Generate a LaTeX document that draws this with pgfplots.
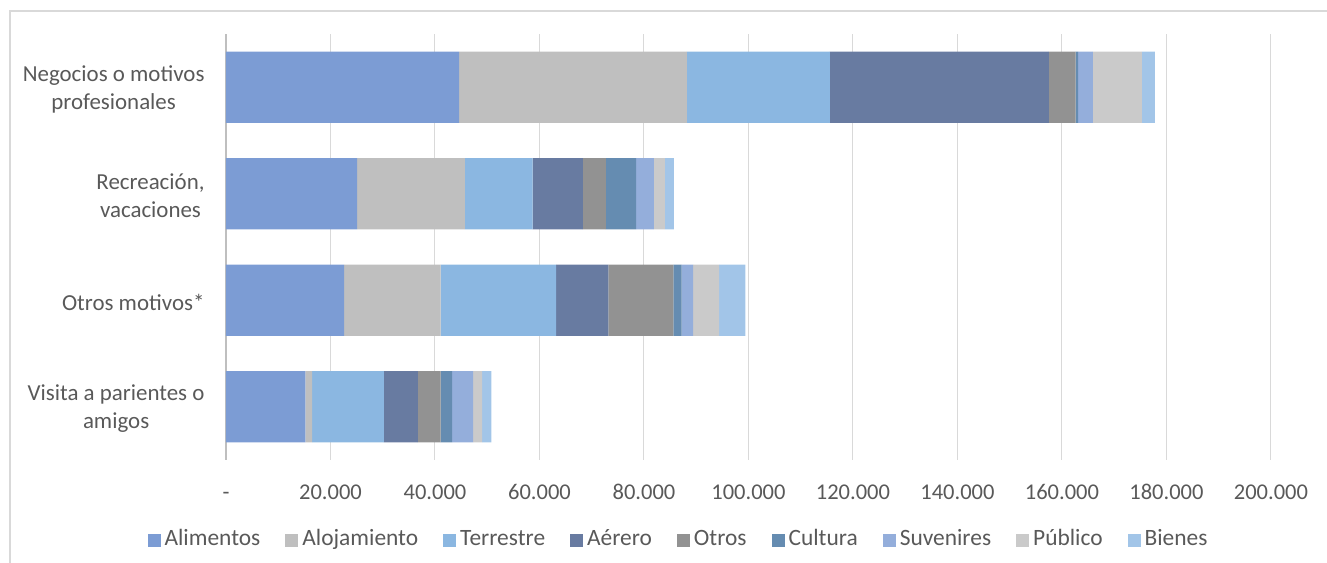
\documentclass[border=0pt]{standalone}
\usepackage{fontspec}
\setmainfont{Carlito}
\usepackage{pgfplots}
\pgfplotsset{compat=1.18}
\definecolor{cAli}{HTML}{7C9CD4}
\definecolor{cAlo}{HTML}{BFBFBF}
\definecolor{cTer}{HTML}{8BB7E1}
\definecolor{cAer}{HTML}{687BA1}
\definecolor{cOtr}{HTML}{929292}
\definecolor{cCul}{HTML}{658CB1}
\definecolor{cSuv}{HTML}{94AEDB}
\definecolor{cPub}{HTML}{CACACA}
\definecolor{cBie}{HTML}{A2C5E8}
\definecolor{txt}{HTML}{595959}
\definecolor{gridc}{HTML}{D9D9D9}
\begin{document}
\begin{tikzpicture}
\useasboundingbox (-226bp,-103bp) rectangle (1101bp,460bp);
\draw[gridc, line width=1.5bp] (-216bp,-103bp) -- (-216bp,449bp) -- (1101bp,449bp);
\begin{axis}[
  at={(0,0)}, anchor=south west,
  scale only axis, width=1045bp, height=426bp,
  xbar stacked, bar width=0.667,
  xmin=0, xmax=200000, ymin=-0.5, ymax=3.5,
  y dir=reverse, enlargelimits=false, clip=false,
  axis line style={draw=none}, major tick length=0pt,
  xmajorgrids, grid style={gridc, line width=1bp},
  scaled x ticks=false,
  xtick={0,20000,40000,60000,80000,100000,120000,140000,160000,180000,200000},
  xticklabels={-,20.000,40.000,60.000,80.000,100.000,120.000,140.000,160.000,180.000,200.000},
  xticklabel style={anchor=base, yshift=-39bp, font=\fontsize{22.6}{26}\selectfont, text=txt},
  ytick={0,1,2,3},
  yticklabels={{Negocios o motivos\\profesionales},{Recreación,\\vacaciones},{Otros motivos*},{Visita a parientes o\\amigos}},
  yticklabel style={anchor=east, align=center, xshift=-18bp, yshift=-2bp, font=\fontsize{23}{27.5}\selectfont, text=txt},
  legend columns=9,
  legend style={at={(0.434,-0.186)}, anchor=center, draw=none, fill=none,
    font=\fontsize{23.5}{26}\selectfont, text=txt,
    /tikz/every even column/.append style={column sep=21bp},
    nodes={inner xsep=4bp, text height=17bp, text depth=5bp}},
  legend image code/.code={\fill[#1] (0bp,-8bp) rectangle (13bp,5bp);},
  every axis plot/.append style={draw=none},
]
\addplot[fill=cAli] coordinates {(44600,0) (25100,1) (22600,2) (15200,3)};
\addplot[fill=cAlo] coordinates {(43600,0) (20600,1) (18500,2) (1300,3)};
\addplot[fill=cTer] coordinates {(27400,0) (13000,1) (22100,2) (13700,3)};
\addplot[fill=cAer] coordinates {(41900,0) (9600,1) (10000,2) (6500,3)};
\addplot[fill=cOtr] coordinates {(5100,0) (4400,1) (12400,2) (4400,3)};
\addplot[fill=cCul] coordinates {(500,0) (5800,1) (1600,2) (2200,3)};
\addplot[fill=cSuv] coordinates {(2800,0) (3400,1) (2200,2) (4000,3)};
\addplot[fill=cPub] coordinates {(9400,0) (2100,1) (5000,2) (1700,3)};
\addplot[fill=cBie] coordinates {(2500,0) (1700,1) (5000,2) (1800,3)};
\legend{Alimentos,Alojamiento,Terrestre,Aérero,Otros,Cultura,Suvenires,Público,Bienes}
\draw[color=cAlo, line width=1.5bp] (axis cs:0,-0.5) -- (axis cs:0,3.5);
\end{axis}
\end{tikzpicture}
\end{document}
